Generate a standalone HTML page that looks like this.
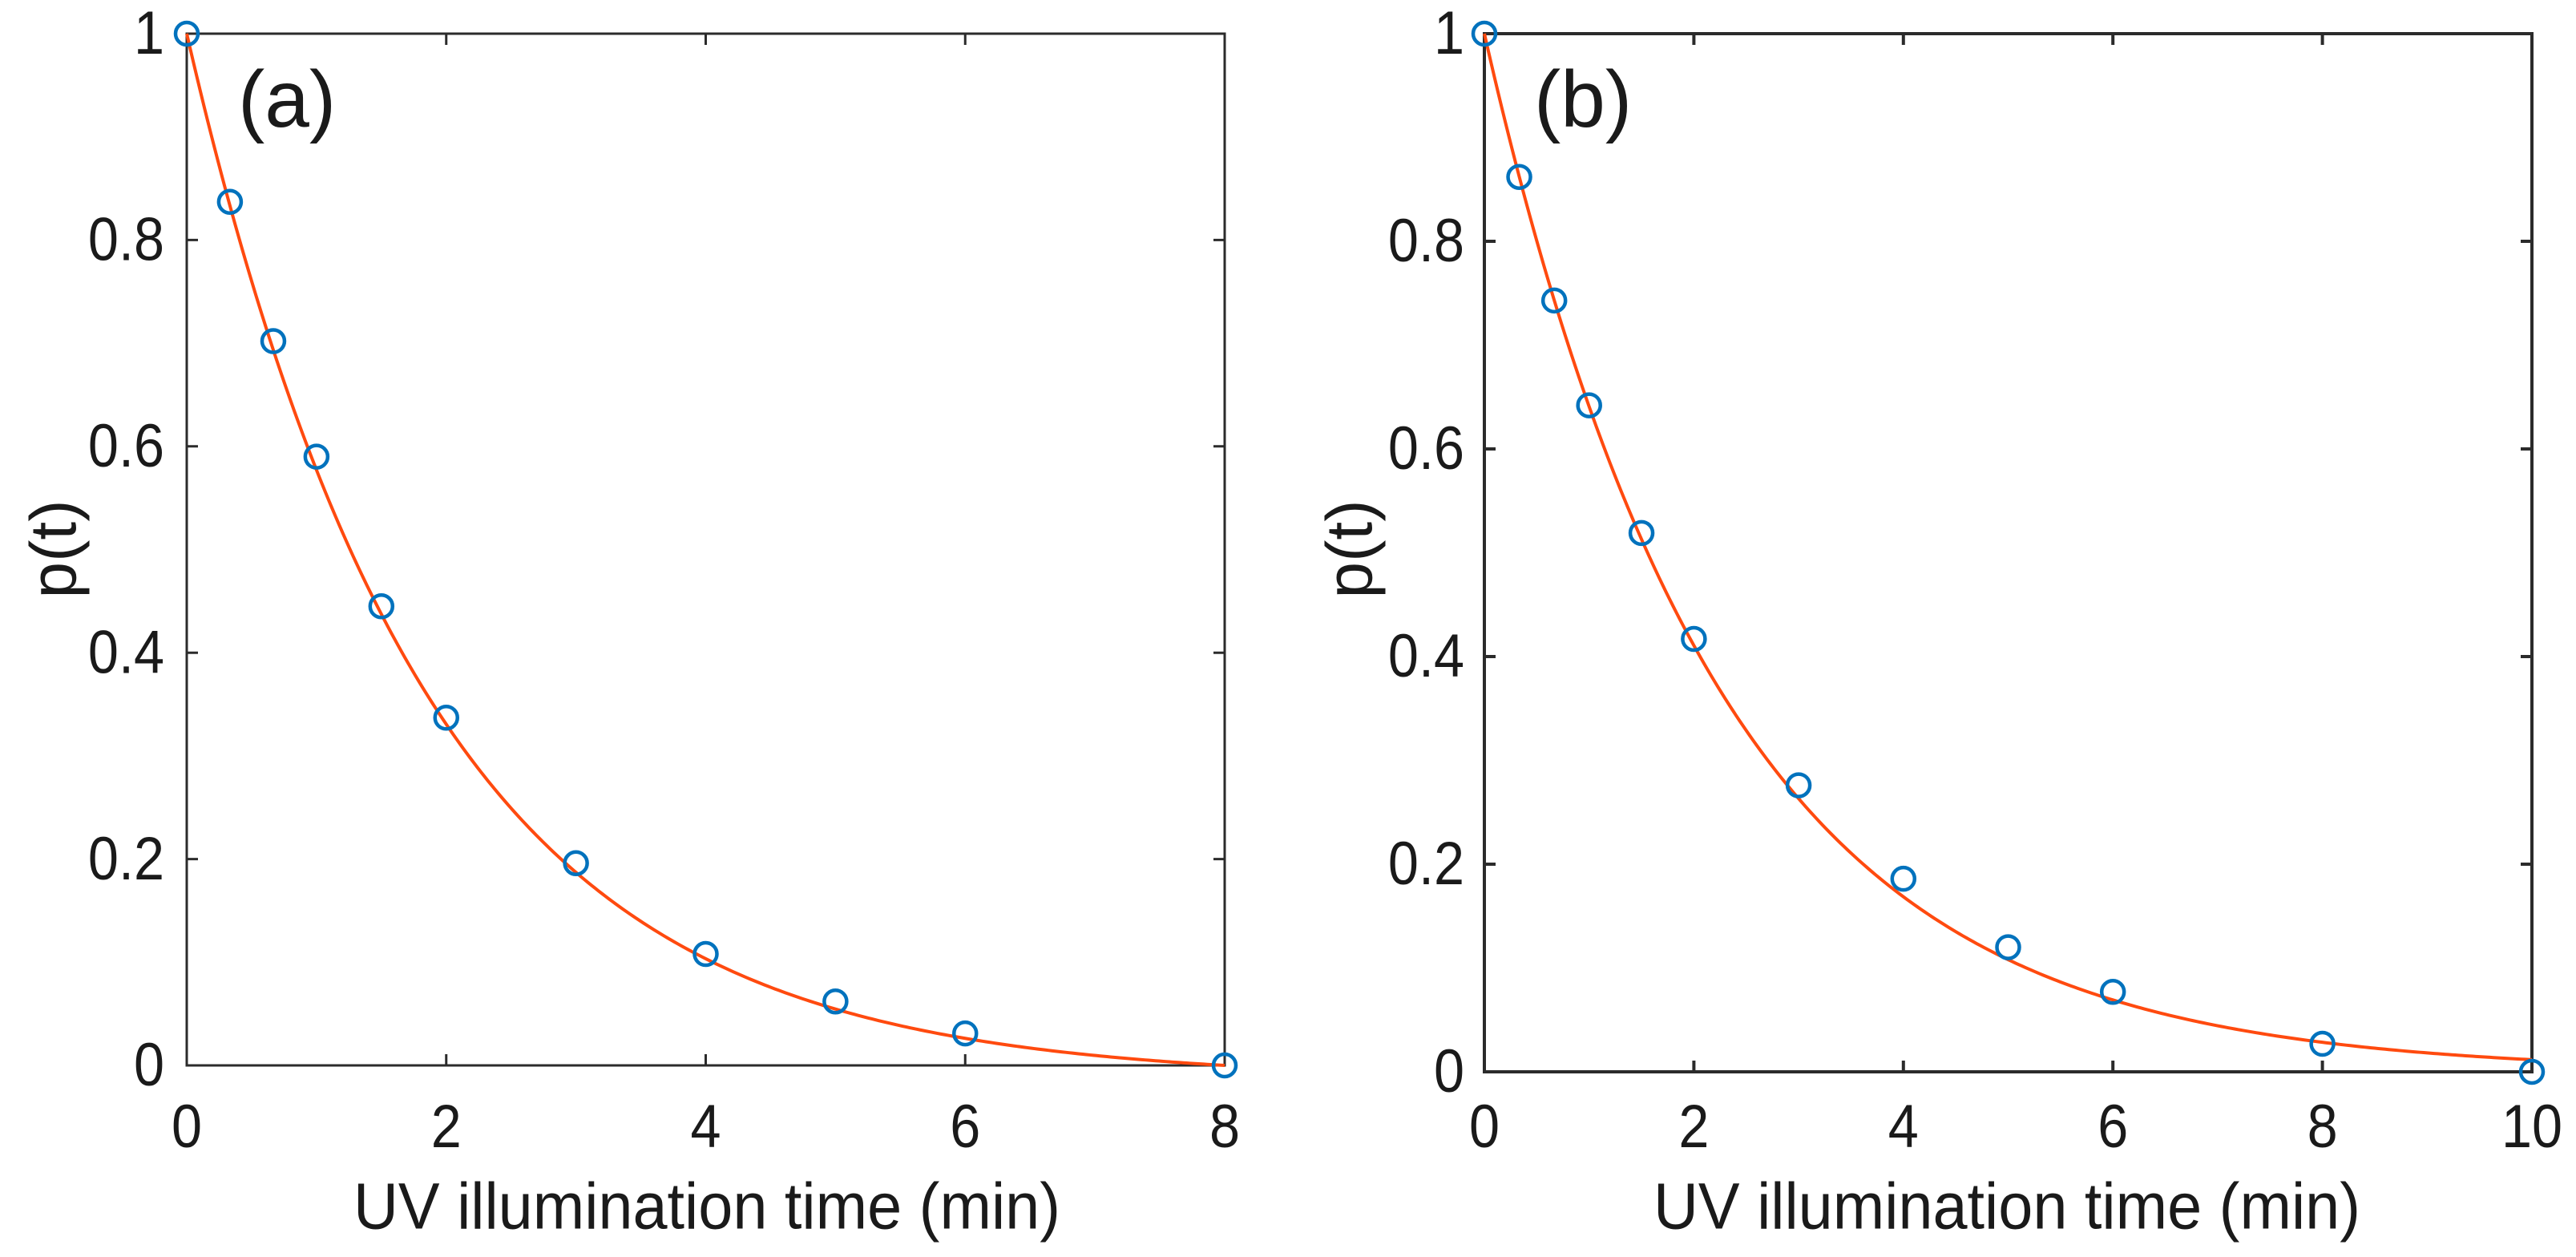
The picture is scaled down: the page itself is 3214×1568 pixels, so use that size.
<!DOCTYPE html>
<html><head><meta charset="utf-8"><style>
html,body{margin:0;padding:0;background:#fff}
svg{display:block}
text{font-family:"Liberation Sans",Arial,sans-serif;fill:#1a1a1a}
</style></head><body>
<svg id="fig" width="3214" height="1568" viewBox="0 0 3214 1568" xmlns="http://www.w3.org/2000/svg"></svg>
<script>
// Panel (a) data
const timesA = [0, 0.333, 0.667, 1, 1.5, 2, 3, 4, 5, 6, 8];
const valuesA = [1, 0.837, 0.702, 0.590, 0.445, 0.337, 0.196, 0.108, 0.062, 0.031, 0];
const xTicksA = [0, 2, 4, 6, 8];
const fitRateA = [0.54];
// Panel (b) data
const timesB = [0, 0.333, 0.667, 1, 1.5, 2, 3, 4, 5, 6, 8, 10];
const valuesB = [1, 0.862, 0.743, 0.642, 0.519, 0.417, 0.276, 0.186, 0.120, 0.077, 0.027, 0];
const xTicksB = [0, 2, 4, 6, 8, 10];
const fitRateB = [0.445];
const yTicks = [0, 0.2, 0.4, 0.6, 0.8, 1];
const yTickLabels = ["0", "0.2", "0.4", "0.6", "0.8", "1"];

const NS = "http://www.w3.org/2000/svg";
const svg = document.getElementById('fig');
function mk(tag, attrs, parent) {
  const e = document.createElementNS(NS, tag);
  for (const k in attrs) e.setAttribute(k, attrs[k]);
  (parent || svg).appendChild(e);
  return e;
}
function txt(str, x, y, size, anchor, sx, parent, rot) {
  const g = mk('g', {transform: `translate(${x},${y})` + (rot ? ` rotate(${rot})` : '') + ` scale(${sx},1)`}, parent);
  const t = mk('text', {x: 0, y: 0, 'font-size': size, 'text-anchor': anchor, 'dominant-baseline': 'central'}, g);
  t.textContent = str;
  return t;
}

function panel(opt) {
  const {L, R, T, B, xmax, xTicks, times, values, rate, normalize, label, labelX, ylabX, titleX, tickRight, sw, name} = opt;
  const g = mk('g', {});
  
  
  const xs = v => L + (v / xmax) * (R - L);
  const ys = v => B - v * (B - T);
  const box = mk('rect', {x: L, y: T, width: R - L, height: B - T, fill: 'none', stroke: '#2b2b2b', 'stroke-width': sw}, g);
  
  
  const tl = 14;
  xTicks.forEach(v => {
    const x = xs(v);
    const tk = mk('path', {d: `M${x},${B}V${B - tl}M${x},${T}V${T + tl}`, stroke: '#2b2b2b', 'stroke-width': sw}, g);
    
    
    const t = txt(String(v), x, 1406, 76, 'middle', 0.9, g);
    
    
  });
  yTicks.forEach((v, i) => {
    const y = ys(v);
    const tk = mk('path', {d: `M${L},${y}H${L + tl}M${R},${y}H${R - tl}`, stroke: '#2b2b2b', 'stroke-width': sw}, g);
    
    
    const t = txt(yTickLabels[i], tickRight, y, 76, 'end', 0.9, g);
    
    
  });
  const k = rate[0];
  const tail = Math.exp(-k * xmax);
  let d = '';
  for (let i = 0; i <= 300; i++) {
    const t = xmax * i / 300;
    let v = Math.exp(-k * t);
    if (normalize) v = (v - tail) / (1 - tail);
    d += (i ? 'L' : 'M') + xs(t).toFixed(2) + ',' + ys(v).toFixed(2);
  }
  const fit = mk('path', {d, fill: 'none', stroke: '#FF4A0F', 'stroke-width': 4}, g);
  
  
  times.forEach((t, i) => {
    const c = mk('circle', {cx: xs(t), cy: ys(values[i]), r: 14, fill: 'none', stroke: '#0072BD', 'stroke-width': 4.5}, g);
    
    
  });
  const pl = mk('text', {x: labelX, y: 158, 'font-size': 100}, g);
  pl.textContent = label;
  
  
  const yl = txt('p(t)', ylabX, 685, 82, 'middle', 1, g, -90);
  
  
  const xl = mk('text', {x: titleX - 441, y: 1505, 'font-size': 82, 'dominant-baseline': 'central', textLength: 882, lengthAdjust: 'spacingAndGlyphs'}, g);
  xl.textContent = 'UV illumination time (min)';
  
  
}

panel({L: 233, R: 1528, T: 42, B: 1329, xmax: 8, xTicks: xTicksA, times: timesA, values: valuesA, rate: fitRateA, normalize: true,
  label: '(a)', labelX: 297, ylabX: 67, titleX: 882, tickRight: 205, sw: 3, name: 'panel-a'});
panel({L: 1852, R: 3159, T: 42, B: 1337, xmax: 10, xTicks: xTicksB, times: timesB, values: valuesB, rate: fitRateB, normalize: false,
  label: '(b)', labelX: 1914, ylabX: 1684, titleX: 2504, tickRight: 1827, sw: 4, name: 'panel-b'});
</script>
</body></html>
